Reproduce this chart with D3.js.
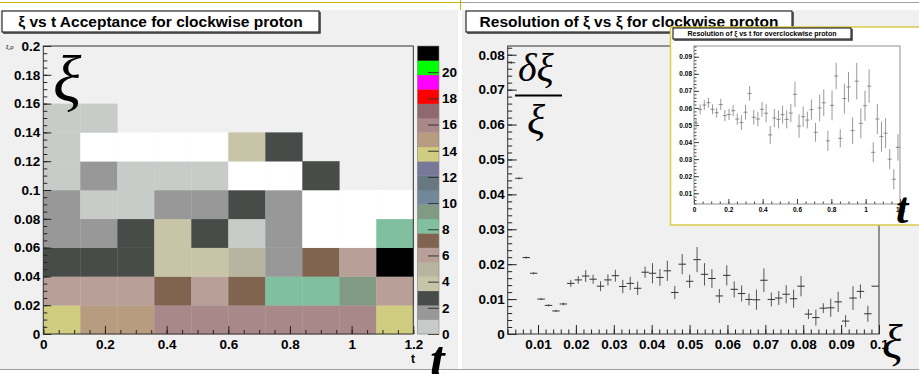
<!DOCTYPE html>
<html><head><meta charset="utf-8">
<script src="https://cdn.jsdelivr.net/npm/d3@7"></script>
<style>
body{margin:0;background:#fff;}
svg text{font-family:"Liberation Sans",Arial,Helvetica,sans-serif;font-weight:bold;fill:#000;}
.greek{font-family:"Liberation Serif","Times New Roman",serif;font-style:italic;font-weight:normal;}
</style></head>
<body><svg id="c" width="919" height="374"></svg>
<script>
// ---------------- DATA ----------------
// Left: xi vs t acceptance (2D histogram, 10 x 10 bins), rows from xi=0 upward
const accTBins  = [0,0.12,0.24,0.36,0.48,0.6,0.72,0.84,0.96,1.08,1.2];
const accXiBins = [0,0.02,0.04,0.06,0.08,0.1,0.12,0.14,0.16,0.18,0.2];
const accCounts = [
  [13.8,14.9,14.9,16.0,16.0,16.0,16.0,16.0,16.0,13.8],
  [6.0, 6.0, 6.0, 7.1, 6.0, 7.1, 8.3, 8.3, 9.4, 6.0],
  [2.7, 2.7, 2.7, 3.9, 3.9, 5.0, 1.6, 7.1, 6.0, 21.5],
  [1.6, 1.6, 2.7, 3.9, 2.7, 0.6, 1.6, 0,   0,   8.3],
  [1.6, 0.6, 0.6, 1.6, 1.6, 2.7, 1.6, 0,   0,   0],
  [0.6, 1.6, 0.6, 0.6, 0.6, 0,   0,   2.7, null,null],
  [0.6, 0,   0,   0,   0,   3.9, 2.7, null,null,null],
  [0.6, 0.6, null,null,null,null,null,null,null,null],
  [null,null,null,null,null,null,null,null,null,null],
  [null,null,null,null,null,null,null,null,null,null]
];
const accPalette = ["#c8ccc8","#989898","#484c48","#c8c4a8","#b8b4a0","#b8a098","#806450","#80c0a0",
  "#809a84","#70889a","#687880","#787898","#d0cc80","#b89c80","#a88888","#906870",
  "#ff0000","#ff00ff","#00ff00","#000000"];
const accZMax = 22;
const accZTicks = [0,2,4,6,8,10,12,14,16,18,20];
const accTTicks = [0,0.2,0.4,0.6,0.8,1,1.2];
const accXiTicks = [0,0.02,0.04,0.06,0.08,0.1,0.12,0.14,0.16,0.18,0.2];

// Right: resolution of xi vs xi (50 bins from 0.002 to 0.1)
const resXi = [0.00298,0.00494,0.0069,0.00886,0.01082,0.01278,0.01474,0.0167,0.01866,0.02062,
  0.02258,0.02454,0.0265,0.02846,0.03042,0.03238,0.03434,0.0363,0.03826,0.04022,
  0.04218,0.04414,0.0461,0.04806,0.05002,0.05198,0.05394,0.0559,0.05786,0.05982,
  0.06178,0.06374,0.0657,0.06766,0.06962,0.07158,0.07354,0.0755,0.07746,0.07942,
  0.08138,0.08334,0.0853,0.08726,0.08922,0.09118,0.09314,0.0951,0.09706,0.09902];
const resVal = [0.0777,0.0446,0.0219,0.0174,0.0100,0.0082,0.0066,0.0086,0.0145,0.0155,
  0.0166,0.0157,0.0137,0.0155,0.0167,0.0136,0.0145,0.0131,0.0177,0.0174,
  0.0162,0.0181,0.0119,0.0200,0.0151,0.0213,0.0171,0.0159,0.0109,0.0168,
  0.0128,0.0116,0.0099,0.0098,0.0154,0.0099,0.0103,0.0114,0.0101,0.0137,
  0.0057,0.0047,0.0074,0.0075,0.0092,0.0037,0.0103,0.0122,0.0058,0.0137];
const resErr = [0.0003,0.0003,0.0003,0.0003,0.0003,0.0003,0.0003,0.0004,0.0010,0.0011,
  0.0017,0.0013,0.0014,0.0016,0.0017,0.0019,0.0019,0.0019,0.0016,0.0029,
  0.0024,0.0029,0.0019,0.0029,0.0019,0.0036,0.0032,0.0027,0.0020,0.0029,
  0.0023,0.0023,0.0017,0.0029,0.0034,0.0020,0.0020,0.0026,0.0026,0.0029,
  0.0014,0.0023,0.0014,0.0026,0.0029,0.0017,0.0034,0.0020,0.0023,0.0000];
const resHalfBin = 0.00098;
const resXiTicks = [0.01,0.02,0.03,0.04,0.05,0.06,0.07,0.08,0.09,0.1];
const resValTicks = [0,0.01,0.02,0.03,0.04,0.05,0.06,0.07,0.08];

// Inset: resolution of xi vs t (50 bins from 0 to 1.2)
const insT = [0.012,0.036,0.06,0.084,0.108,0.132,0.156,0.18,0.204,0.228,
  0.252,0.276,0.3,0.324,0.348,0.372,0.396,0.42,0.444,0.468,
  0.492,0.516,0.54,0.564,0.588,0.612,0.636,0.66,0.684,0.708,
  0.732,0.756,0.78,0.804,0.828,0.852,0.876,0.9,0.924,0.948,
  0.972,0.996,1.02,1.044,1.068,1.092,1.116,1.14,1.164,1.188];
const insVal = [0.0510,0.0592,0.0617,0.0631,0.0592,0.0572,0.0620,0.0555,0.0562,0.0584,
  0.0535,0.0514,0.0575,0.0685,0.0545,0.0535,0.0592,0.0569,0.0442,0.0541,
  0.0533,0.0561,0.0533,0.0570,0.0680,0.0494,0.0549,0.0529,0.0590,0.0457,
  0.0600,0.0630,0.0407,0.0615,0.0787,0.0422,0.0655,0.0723,0.0467,0.0757,
  0.0510,0.0613,0.0728,0.0340,0.0535,0.0432,0.0452,0.0300,0.0182,0.0369];
const insErr = [0.0029,0.0029,0.0029,0.0029,0.0029,0.0029,0.0033,0.0033,0.0033,0.0033,
  0.0033,0.0043,0.0043,0.0043,0.0043,0.0043,0.0043,0.0053,0.0053,0.0053,
  0.0053,0.0053,0.0053,0.0053,0.0074,0.0068,0.0059,0.0049,0.0059,0.0055,
  0.0078,0.0078,0.0059,0.0088,0.0078,0.0053,0.0088,0.0088,0.0078,0.0107,
  0.0088,0.0088,0.0098,0.0059,0.0088,0.0088,0.0088,0.0059,0.0059,0.0078];
const insHalfBin = 0.012;
const insTTicks = [0,0.2,0.4,0.6,0.8,1,1.2];
const insValTicks = [0.01,0.02,0.03,0.04,0.05,0.06,0.07,0.08,0.09];

// ---------------- DRAWING ----------------
const svg = d3.select("#c");
const fmt = d => String(+(+d).toFixed(4));

function rootAxis(g, axisFn, scale, major, minor, majLen, minLen, pad, fs) {
  const gMin = g.append("g").call(axisFn(scale).tickValues(minor).tickSize(-minLen).tickFormat(""));
  gMin.select(".domain").remove();
  const gMaj = g.append("g").call(axisFn(scale).tickValues(major).tickSize(-majLen).tickPadding(pad).tickFormat(fmt));
  gMaj.select(".domain").remove();
  g.selectAll("line").attr("stroke","#222");
  gMaj.selectAll("text").style("font-size", fs + "px").attr("fill","#000");
  return gMaj;
}
function titleBox(x, y, w, h, txt, fs, base) {
  svg.append("rect").attr("x",x).attr("y",y).attr("width",w).attr("height",h).attr("fill","#fff").attr("stroke","#000").attr("stroke-width",1);
  svg.append("path").attr("d",`M${x+w+1},${y+1}V${y+h+1}H${x+1}`).attr("fill","none").attr("stroke","#333").attr("stroke-width",1.5);
  svg.append("text").attr("x",x+w/2).attr("y",y+base).attr("text-anchor","middle").style("font-size",fs+"px").text(txt);
}

// pads
svg.append("line").attr("x1",0).attr("x2",460).attr("y1",2.5).attr("y2",2.5).attr("stroke","#c8b400").attr("stroke-width",1.2);
svg.append("line").attr("x1",461).attr("x2",919).attr("y1",2.5).attr("y2",2.5).attr("stroke","#a0a0a0").attr("stroke-width",1);
svg.append("line").attr("x1",460.5).attr("x2",460.5).attr("y1",0).attr("y2",10).attr("stroke","#c8b400");
svg.append("rect").attr("x",0).attr("y",10).attr("width",458).attr("height",359).attr("fill","#f0f0f0");
svg.append("rect").attr("x",462).attr("y",10).attr("width",457).attr("height",359).attr("fill","#f0f0f0");
svg.append("line").attr("x1",0).attr("x2",919).attr("y1",369.5).attr("y2",369.5).attr("stroke","#a0a0a0");

// ===== LEFT: heatmap =====
const L = {x0:43.3, x1:413.3, y0:46, y1:334};
const xL = d3.scaleLinear().domain([0,1.2]).range([L.x0,L.x1]);
const yL = d3.scaleLinear().domain([0,0.2]).range([L.y1,L.y0]);
const zScale = d3.scaleLinear().domain([0,accZMax]).range([L.y1,L.y0]);
const zColor = d3.scaleQuantize().domain([0,accZMax]).range(accPalette);

const cells = [];
accCounts.forEach((row,r) => row.forEach((v,c) => { if (v !== null) cells.push({r,c,v}); }));
svg.append("g").selectAll("rect").data(cells).join("rect")
  .attr("x", d => xL(accTBins[d.c]))
  .attr("y", d => yL(accXiBins[d.r+1]))
  .attr("width", d => xL(accTBins[d.c+1]) - xL(accTBins[d.c]) + 0.3)
  .attr("height", d => yL(accXiBins[d.r]) - yL(accXiBins[d.r+1]) + 0.3)
  .attr("fill", d => d.v <= 0 ? "#ffffff" : zColor(d.v));

const gLy = svg.append("g").attr("transform",`translate(${L.x0},0)`);
rootAxis(gLy, d3.axisLeft, yL, accXiTicks, d3.range(0,0.2001,0.005), 8, 4, 3, 13.5);
const gLx = svg.append("g").attr("transform",`translate(0,${L.y1})`);
rootAxis(gLx, d3.axisBottom, xL, accTTicks, d3.range(0,1.2001,0.05), 8, 4, 5, 13.5);
svg.append("rect").attr("x",L.x0).attr("y",L.y0).attr("width",L.x1-L.x0).attr("height",L.y1-L.y0)
  .attr("fill","none").attr("stroke","#333").attr("stroke-width",1);

// colour bar
const CB = {x0:417.3, x1:439};
const levels = d3.range(accPalette.length);
const lvW = accZMax / accPalette.length;
svg.append("g").selectAll("rect").data(levels).join("rect")
  .attr("x",CB.x0).attr("width",CB.x1-CB.x0)
  .attr("y", k => zScale((k+1)*lvW)).attr("height", k => zScale(k*lvW) - zScale((k+1)*lvW) + 0.3)
  .attr("fill", k => accPalette[k]);
const gZ = svg.append("g").attr("transform",`translate(${CB.x1},0)`);
gZ.call(d3.axisRight(zScale).tickValues(accZTicks).tickSize(-11).tickPadding(3).tickFormat(d3.format("d")));
gZ.select(".domain").remove();
gZ.selectAll("line").attr("stroke","#333");
gZ.selectAll("text").style("font-size","13.5px");
svg.append("rect").attr("x",CB.x0).attr("y",L.y0).attr("width",CB.x1-CB.x0).attr("height",L.y1-L.y0)
  .attr("fill","none").attr("stroke","#888").attr("stroke-width",0.6);

svg.append("text").attr("x",413).attr("y",363).attr("text-anchor","middle").style("font-size","12px").text("t");
svg.append("text").attr("x",6).attr("y",49).style("font-size","6px").style("font-weight","normal").text("ξ,ρ");
svg.append("text").attr("class","greek").attr("x",53).attr("y",101).style("font-size","66px").text("ξ");
svg.append("text").attr("class","greek").attr("x",430).attr("y",377).style("font-size","52px").style("font-weight","bold").text("t");

titleBox(2, 11, 317, 21, "ξ vs t Acceptance for clockwise proton", 15.5, 16);

// ===== RIGHT: resolution vs xi =====
const R = {x0:507.7, x1:879, y0:46, y1:334};
const xR = d3.scaleLinear().domain([0.002,0.1]).range([R.x0,R.x1]);
const yR = d3.scaleLinear().domain([0,0.0825]).range([R.y1,R.y0]);
titleBox(466, 11, 326, 21, "Resolution of ξ vs ξ for clockwise proton", 15.5, 16);

const gRy = svg.append("g").attr("transform",`translate(${R.x0},0)`);
rootAxis(gRy, d3.axisLeft, yR, resValTicks, d3.range(0,0.0825,0.002), 9, 4.5, 3, 13.5);
const gRx = svg.append("g").attr("transform",`translate(0,${R.y1})`);
rootAxis(gRx, d3.axisBottom, xR, resXiTicks, d3.range(0.002,0.1001,0.002), 9, 4.5, 5, 13.5);
svg.append("rect").attr("x",R.x0).attr("y",R.y0).attr("width",R.x1-R.x0).attr("height",R.y1-R.y0)
  .attr("fill","none").attr("stroke","#333").attr("stroke-width",1);

svg.append("text").attr("class","greek").attr("x",518).attr("y",81).style("font-size","40px").text("δξ");
svg.append("line").attr("x1",515).attr("x2",562).attr("y1",95.5).attr("y2",95.5).attr("stroke","#000").attr("stroke-width",1.8);
svg.append("text").attr("class","greek").attr("x",527).attr("y",134).style("font-size","42px").text("ξ");
svg.append("text").attr("class","greek").attr("x",882).attr("y",358).style("font-size","48px").text("ξ");

const resPts = resXi.map((x,i) => ({x, v:resVal[i], e:resErr[i]}));
const gRp = svg.append("g");
gRp.selectAll("line.v").data(resPts).join("line").attr("class","v")
  .attr("x1",d=>xR(d.x)).attr("x2",d=>xR(d.x))
  .attr("y1",d=>yR(d.v+d.e)).attr("y2",d=>yR(d.v-d.e)).attr("stroke","#555").attr("stroke-width",1);
gRp.selectAll("line.h").data(resPts).join("line").attr("class","h")
  .attr("x1",d=>xR(d.x-resHalfBin)).attr("x2",d=>xR(d.x+resHalfBin))
  .attr("y1",d=>yR(d.v)).attr("y2",d=>yR(d.v)).attr("stroke","#333").attr("stroke-width",1);

// ===== INSET: resolution vs t =====
svg.append("rect").attr("x",670.5).attr("y",27).attr("width",250).attr("height",198)
  .attr("fill","#fff").attr("stroke","#d8cc48").attr("stroke-width",1.5);
const I = {x0:694, x1:900, y0:46, y1:204};
const xI = d3.scaleLinear().domain([0,1.2]).range([I.x0,I.x1]);
const yI = d3.scaleLinear().domain([0.0037,0.0963]).range([I.y1,I.y0]);
const gIy = svg.append("g").attr("transform",`translate(${I.x0},0)`);
rootAxis(gIy, d3.axisLeft, yI, insValTicks, d3.range(0.004,0.0963,0.002), 5, 2.5, 2, 6.5);
const gIx = svg.append("g").attr("transform",`translate(0,${I.y1})`);
rootAxis(gIx, d3.axisBottom, xI, insTTicks, d3.range(0,1.2001,0.05), 5, 2.5, 3, 6.5);
gIx.selectAll("line").attr("stroke","#444");
gIy.selectAll("line").attr("stroke","#444");
svg.append("rect").attr("x",I.x0).attr("y",I.y0).attr("width",I.x1-I.x0).attr("height",I.y1-I.y0)
  .attr("fill","none").attr("stroke","#777").attr("stroke-width",0.8);

const insPts = insT.map((x,i) => ({x, v:insVal[i], e:insErr[i]}));
const gIp = svg.append("g");
gIp.selectAll("line.v").data(insPts).join("line").attr("class","v")
  .attr("x1",d=>xI(d.x)).attr("x2",d=>xI(d.x))
  .attr("y1",d=>yI(d.v+d.e)).attr("y2",d=>yI(d.v-d.e)).attr("stroke","#999").attr("stroke-width",1);
gIp.selectAll("line.h").data(insPts).join("line").attr("class","h")
  .attr("x1",d=>xI(d.x-insHalfBin)).attr("x2",d=>xI(d.x+insHalfBin))
  .attr("y1",d=>yI(d.v)).attr("y2",d=>yI(d.v)).attr("stroke","#777").attr("stroke-width",0.8);

titleBox(673, 28, 178, 11, "Resolution of ξ vs t for overclockwise proton", 7, 8.3);
svg.append("text").attr("class","greek").attr("x",896).attr("y",223).style("font-size","44px").style("font-weight","bold").text("t");
</script></body></html>
